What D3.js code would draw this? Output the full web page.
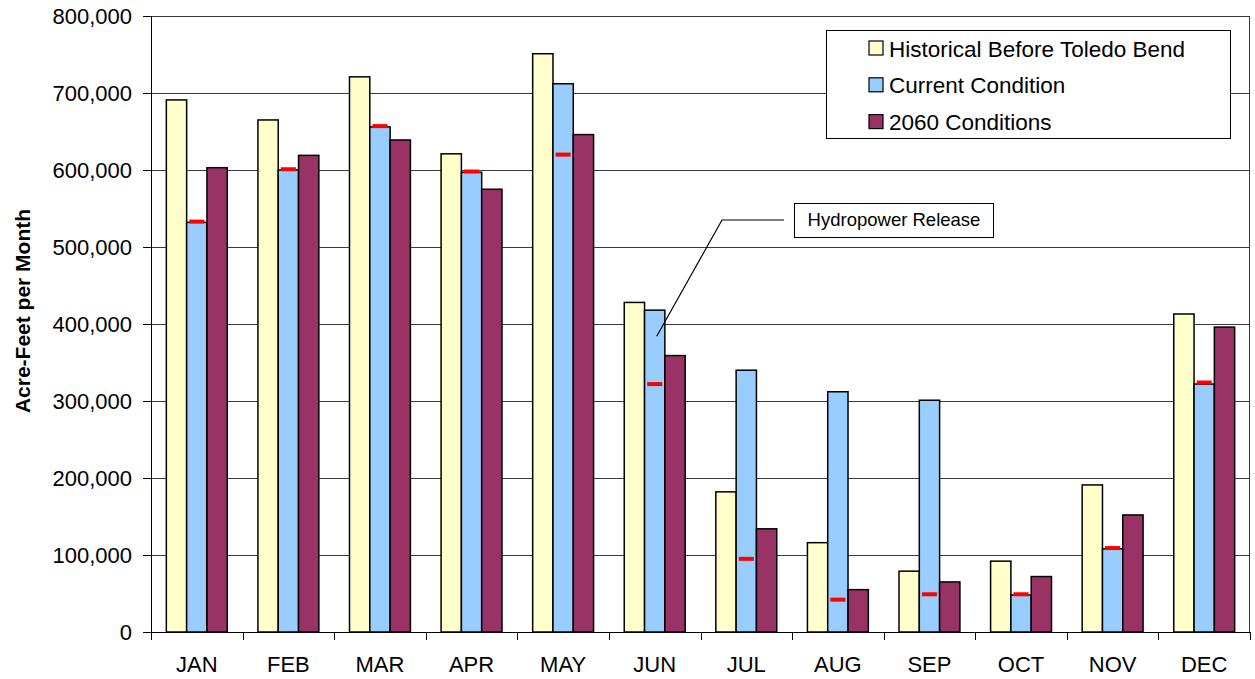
<!DOCTYPE html>
<html>
<head>
<meta charset="utf-8">
<script src="https://cdn.jsdelivr.net/npm/d3@7"></script>
<style>
  body { margin: 0; background: #fff; }
  text { font-family: Arial, "Liberation Sans", sans-serif; }
</style>
</head>
<body>
<svg id="chart"></svg>
<script>
var months = ["JAN", "FEB", "MAR", "APR", "MAY", "JUN", "JUL", "AUG", "SEP", "OCT", "NOV", "DEC"]
var seriesNames = ["Historical Before Toledo Bend", "Current Condition", "2060 Conditions"]
var historical = [691000, 665000, 721000, 621000, 751000, 428000, 182000, 116000, 79000, 92000, 191000, 413000]
var current = [532000, 600000, 656000, 597000, 712000, 418000, 340000, 312000, 301000, 48000, 108000, 322000]
var future2060 = [603000, 619000, 639000, 575000, 646000, 359000, 134000, 55000, 65000, 72000, 152000, 396000]
var hydropower = [533000, 601000, 657000, 598000, 620000, 322000, 95000, 42000, 49000, 49000, 109000, 324000]
var yTicks = [0, 100000, 200000, 300000, 400000, 500000, 600000, 700000, 800000]

var colors = ["#ffffcc", "#99ccff", "#993366"]

var width = 1255, height = 679
var margin = {top: 16, right: 5, bottom: 47, left: 151}
var w = width - margin.left - margin.right
var h = height - margin.top - margin.bottom

var svg = d3.select("#chart")
    .attr("width", width)
    .attr("height", height)
  .append("g")
    .attr("transform", "translate(" + margin.left + "," + margin.top + ")")

var x0 = d3.scaleBand()
    .domain(months)
    .range([0, w])
    .paddingInner(0.335)
    .paddingOuter(0.1675)

var x1 = d3.scaleBand()
    .domain([0, 1, 2])
    .range([0, x0.bandwidth()])

var y = d3.scaleLinear()
    .domain([0, 800000])
    .range([h, 0])

// gridlines
svg.append("g")
    .selectAll("line")
    .data(yTicks.slice(1))
    .enter()
    .append("line")
    .attr("x1", 0)
    .attr("x2", w)
    .attr("y1", function(d){ return Math.round(y(d)) + 0.5 })
    .attr("y2", function(d){ return Math.round(y(d)) + 0.5 })
    .attr("stroke", "#3a3a3a")
    .attr("stroke-width", 1)

// right border
svg.append("line")
    .attr("x1", w - 0.5).attr("x2", w - 0.5)
    .attr("y1", 0).attr("y2", h)
    .attr("stroke", "#3a3a3a")

// bars
var rows = months.map(function(m, i){
    return {month: m, values: [historical[i], current[i], future2060[i]], hydro: hydropower[i]}
})

var groups = svg.append("g")
    .selectAll("g")
    .data(rows)
    .enter()
    .append("g")
    .attr("transform", function(d){ return "translate(" + x0(d.month) + ",0)" })

groups.selectAll("rect")
    .data(function(d){ return d.values.map(function(v, k){ return {k: k, v: v} }) })
    .enter()
    .append("rect")
    .attr("x", function(d){ return x1(d.k) })
    .attr("y", function(d){ return y(d.v) })
    .attr("width", x1.bandwidth())
    .attr("height", function(d){ return h - y(d.v) })
    .attr("fill", function(d){ return colors[d.k] })
    .attr("stroke", "#000")
    .attr("stroke-width", 1.5)

// hydropower release markers
groups.append("rect")
    .attr("x", x1(1) + x1.bandwidth() * 0.13)
    .attr("y", function(d){ return y(d.hydro) - 2 })
    .attr("width", x1.bandwidth() * 0.74)
    .attr("height", 4)
    .attr("fill", "#ff0000")

// y axis
var yAxis = svg.append("g")
    .call(d3.axisLeft(y).tickValues(yTicks).tickSize(8).tickPadding(11)
        .tickFormat(d3.format(",")))
yAxis.select(".domain").attr("stroke", "#000").attr("d", "M0.5,0V" + h)
yAxis.selectAll("text").attr("font-size", "22px").attr("fill", "#000")

// x axis
var xAxis = svg.append("g")
    .attr("transform", "translate(0," + h + ")")
xAxis.append("line")
    .attr("x1", 0).attr("x2", w)
    .attr("y1", 0.5).attr("y2", 0.5)
    .attr("stroke", "#000")
xAxis.selectAll(".tick")
    .data(d3.range(months.length + 1))
    .enter()
    .append("line")
    .attr("x1", function(i){ return Math.round(i * x0.step()) + 0.5 })
    .attr("x2", function(i){ return Math.round(i * x0.step()) + 0.5 })
    .attr("y1", 0)
    .attr("y2", 8)
    .attr("stroke", "#000")
xAxis.selectAll("text")
    .data(months)
    .enter()
    .append("text")
    .attr("x", function(d){ return x0(d) + x0.bandwidth() / 2 })
    .attr("y", 40)
    .attr("text-anchor", "middle")
    .attr("font-size", "22px")
    .text(function(d){ return d })

// y axis title
svg.append("text")
    .attr("transform", "translate(" + (-121) + "," + (311 - margin.top) + ") rotate(-90)")
    .attr("text-anchor", "middle")
    .attr("font-size", "21px")
    .attr("font-weight", "bold")
    .text("Acre-Feet per Month")

// legend
var legend = svg.append("g")
    .attr("transform", "translate(" + (826 - margin.left) + "," + (30 - margin.top) + ")")
legend.append("rect")
    .attr("x", 0.5).attr("y", 0.5)
    .attr("width", 404).attr("height", 108)
    .attr("fill", "#fff")
    .attr("stroke", "#000")
var items = legend.selectAll(".item")
    .data(seriesNames)
    .enter()
    .append("g")
    .attr("transform", function(d, i){ return "translate(43," + (18 + i * 36.8) + ")" })
items.append("rect")
    .attr("x", 0).attr("y", -7)
    .attr("width", 14).attr("height", 14)
    .attr("fill", function(d, i){ return colors[i] })
    .attr("stroke", "#000")
    .attr("stroke-width", 1.2)
items.append("text")
    .attr("x", 20)
    .attr("y", 8.5)
    .attr("font-size", "22.5px")
    .text(function(d){ return d })

// hydropower callout
var callout = svg.append("g")
var bx = 794 - margin.left, by = 203 - margin.top
callout.append("rect")
    .attr("x", bx + 0.5).attr("y", by + 0.5)
    .attr("width", 199).attr("height", 34)
    .attr("fill", "#fff")
    .attr("stroke", "#000")
callout.append("text")
    .attr("x", bx + 100)
    .attr("y", by + 23)
    .attr("text-anchor", "middle")
    .attr("font-size", "18.5px")
    .text("Hydropower Release")
var tipX = x0("JUN") + x1(1) + x1.bandwidth() * 0.6
var tipY = y(384000)
callout.append("polyline")
    .attr("points", [[bx - 10, by + 17], [bx - 72, by + 17], [tipX, tipY]].join(" "))
    .attr("fill", "none")
    .attr("stroke", "#000")
    .attr("stroke-width", 1.2)
</script>
</body>
</html>
